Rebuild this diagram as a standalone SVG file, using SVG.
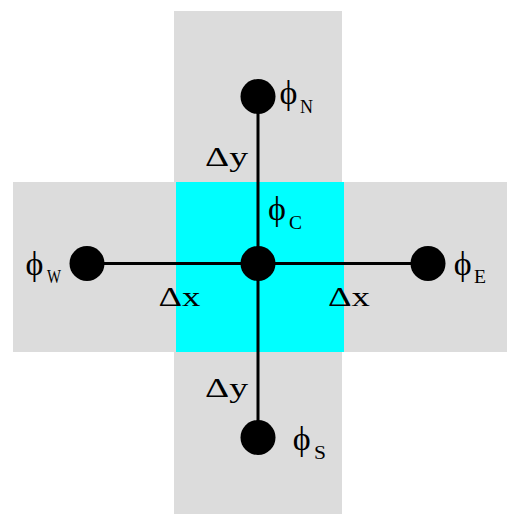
<svg xmlns="http://www.w3.org/2000/svg" width="517" height="516" viewBox="0 0 517 516">
<style>
.cell{fill:#dcdcdc}
.dot{fill:#000}
.ln{stroke:#000;stroke-width:3;fill:none}
.phi{font-family:"Liberation Serif","DejaVu Serif",serif;font-size:34px;fill:#000;text-anchor:middle}
.sub{font-family:"Liberation Serif",serif;font-size:18px;fill:#000;text-anchor:middle}
.d{font-family:"Liberation Serif",serif;font-size:27px;fill:#000}
</style>
<rect width="517" height="516" fill="#fff"/>
<g id="cells">
<rect class="cell" x="174" y="11" width="168" height="503"/>
<rect class="cell" x="13" y="182" width="494" height="170"/>
<rect x="176" y="182" width="168" height="170" fill="#00ffff"/>
</g>
<g id="connectors">
<line class="ln" x1="258" y1="96" x2="258" y2="437"/>
<line class="ln" x1="87" y1="263.5" x2="428" y2="263.5"/>
</g>
<g id="N"><circle class="dot" cx="258" cy="96.5" r="17.5"/><text class="phi" x="288.5" y="104">ϕ</text><text class="sub" x="306.5" y="113" textLength="13" lengthAdjust="spacingAndGlyphs">N</text></g>
<g id="S"><circle class="dot" cx="258" cy="437.5" r="17.5"/><text class="phi" x="301.7" y="450">ϕ</text><text class="sub" x="320" y="459" textLength="12" lengthAdjust="spacingAndGlyphs">S</text></g>
<g id="W"><circle class="dot" cx="87" cy="263.5" r="17.5"/><text class="phi" x="34.5" y="275">ϕ</text><text class="sub" x="54" y="283" textLength="14" lengthAdjust="spacingAndGlyphs">W</text></g>
<g id="E"><circle class="dot" cx="428" cy="263.5" r="17.5"/><text class="phi" x="462.7" y="275">ϕ</text><text class="sub" x="480" y="283" textLength="12" lengthAdjust="spacingAndGlyphs">E</text></g>
<g id="C"><circle class="dot" cx="258" cy="263.5" r="17.5"/><text class="phi" x="277" y="220">ϕ</text><text class="sub" x="295.5" y="229" textLength="13" lengthAdjust="spacingAndGlyphs">C</text></g>
<g id="labels">
<text class="d" x="205" y="166" textLength="43" lengthAdjust="spacingAndGlyphs">Δy</text>
<text class="d" x="205" y="397" textLength="43" lengthAdjust="spacingAndGlyphs">Δy</text>
<text class="d" x="158.5" y="305.5" textLength="42" lengthAdjust="spacingAndGlyphs">Δx</text>
<text class="d" x="328" y="305.5" textLength="42" lengthAdjust="spacingAndGlyphs">Δx</text>
</g>
</svg>
